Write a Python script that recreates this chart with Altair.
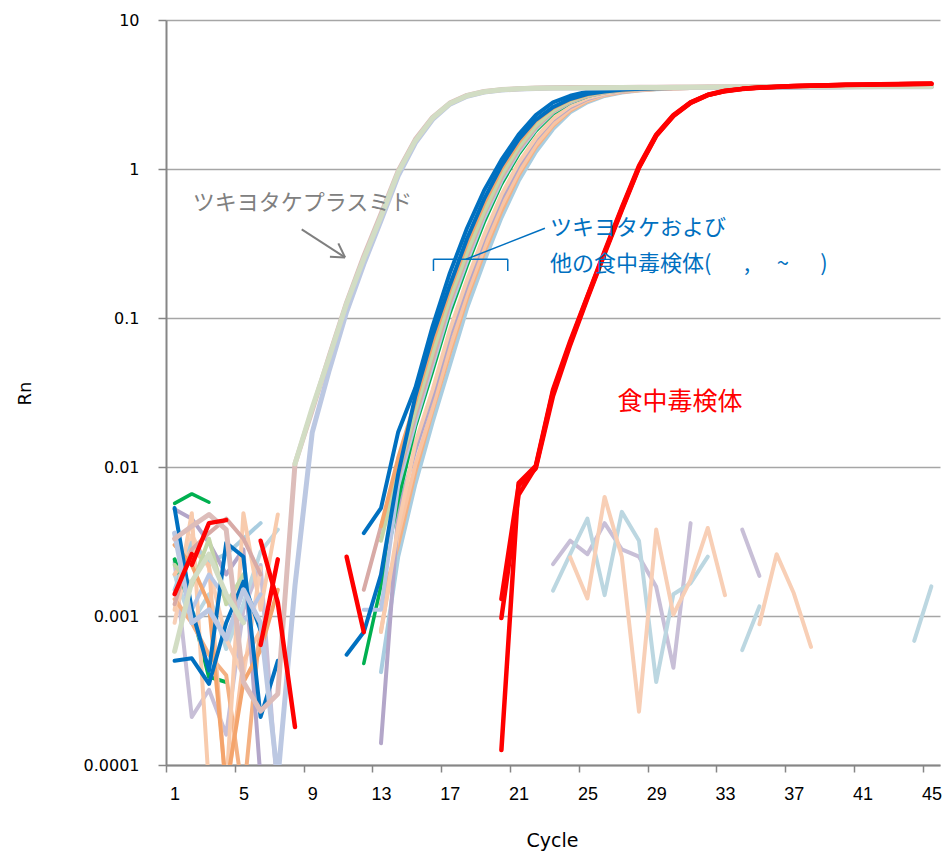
import altair as alt
import pandas as pd

# ---------------- data (Rn per cycle, None = no value / gap) ----------------
cycles = list(range(1, 46))
x_tick_values = [0.5, 4.5, 8.5, 12.5, 16.5, 20.5, 24.5, 28.5, 32.5, 36.5, 40.5, 44.5]
y_tick_values = [0.0001, 0.001, 0.01, 0.1, 1, 10]

# ツキヨタケプラスミド
plasmid_green = [
    0.00058, 0.0017, 0.0026, 0.0014, 0.0009,
    None, None, 0.0105, 0.025, 0.055,
    0.125, 0.25, 0.48, 0.95, 1.55,
    2.2, 2.75, 3.1, 3.3, 3.4,
    3.45, 3.48, 3.5, 3.5, 3.51,
    3.51, 3.52, 3.52, 3.53, 3.53,
    3.54, 3.54, 3.55, 3.55, 3.55,
    3.56, 3.56, 3.56, 3.57, 3.57,
    3.57, 3.58, 3.58, 3.58, 3.58]
plasmid_rose = [
    0.0033, 0.004, 0.0048, 0.0038, 0.00036,
    0.00023, 0.0003, 0.0105, 0.024, 0.056,
    0.127, 0.26, 0.5, 0.97, 1.58,
    2.22, 2.77, 3.12, 3.31, 3.41,
    3.46, 3.49, 3.51, 3.52, 3.52,
    3.53, 3.53, 3.54, 3.54, 3.55,
    3.55, 3.56, 3.56, 3.57, 3.57,
    3.58, 3.58, 3.59, 3.59, 3.6,
    3.6, 3.6, 3.61, 3.61, 3.61]
plasmid_steel = [
    0.0036, 0.0009, 0.0011, 0.0007, 0.0015,
    0.0009, 0.00008, 0.0016, 0.017, 0.045,
    0.11, 0.23, 0.45, 0.9, 1.5,
    2.15, 2.72, 3.08, 3.28, 3.39,
    3.44, 3.47, 3.49, 3.5, 3.5,
    3.51, 3.51, 3.52, 3.52, 3.52,
    3.53, 3.53, 3.53, 3.54, 3.54,
    3.54, 3.55, 3.55, 3.55, 3.55,
    3.56, 3.56, 3.56, 3.56, 3.57]

# ツキヨタケおよび他の食中毒検体
sample_blue_a = [
    0.0053, 0.0011, 0.00043, 0.0031, 0.0025,
    0.00021, 0.0005, None, None, None,
    None, 0.0036, 0.0053, 0.0172, 0.034,
    0.088, 0.2, 0.4, 0.72, 1.15,
    1.7, 2.3, 2.8, 3.1, 3.3,
    3.4, 3.45, 3.48, 3.5, 3.51,
    3.52, 3.52, 3.53, 3.53, 3.54,
    3.54, 3.55, 3.55, 3.55, 3.56,
    3.56, 3.56, 3.57, 3.57, 3.57]
sample_blue_b = [
    0.0005, 0.00052, 0.00035, 0.0009, 0.0017,
    0.0008, None, None, None, None,
    0.00055, 0.00078, 0.0019, 0.009, 0.03,
    0.076, 0.166, 0.34, 0.63, 1.05,
    1.58, 2.14, 2.6, 2.95, 3.18,
    3.31, 3.4, 3.45, 3.48, 3.5,
    3.51, 3.52, 3.52, 3.53, 3.53,
    3.54, 3.54, 3.55, 3.55, 3.55,
    3.56, 3.56, 3.56, 3.57, 3.57]
sample_orange = [
    0.003, 0.0022, 0.0012, 0.00007, 0.00036,
    0.00059, 0.0015, None, None, None,
    None, None, 0.004, 0.0115, 0.0275,
    0.069, 0.155, 0.316, 0.59, 1.0,
    1.51, 2.1, 2.57, 2.92, 3.16,
    3.31, 3.39, 3.45, 3.48, 3.5,
    3.52, 3.53, 3.54, 3.55, 3.56,
    3.57, 3.58, 3.59, 3.6, 3.6,
    3.61, 3.61, 3.62, 3.62, 3.62]
sample_palegreen = [
    0.0022, 0.0016, 0.0033, 0.0012, 0.0019,
    None, None, None, None, None,
    None, None, 0.0032, 0.0093, 0.024,
    0.058, 0.135, 0.275, 0.52, 0.91,
    1.4, 1.95, 2.47, 2.86, 3.13,
    3.29, 3.38, 3.44, 3.48, 3.5,
    3.51, 3.52, 3.53, 3.53, 3.54,
    3.54, 3.55, 3.55, 3.56, 3.56,
    3.56, 3.57, 3.57, 3.57, 3.58]
sample_rose = [
    0.0012, 0.0028, 0.0036, 0.0045, 0.0033,
    0.0019, None, None, None, None,
    None, 0.0015, 0.004, 0.0085, 0.022,
    0.052, 0.126, 0.257, 0.5, 0.87,
    1.35, 1.9, 2.43, 2.83, 3.1,
    3.27, 3.37, 3.43, 3.47, 3.5,
    3.52, 3.53, 3.54, 3.55, 3.56,
    3.57, 3.57, 3.58, 3.58, 3.59,
    3.59, 3.6, 3.6, 3.6, 3.61]
sample_green = [
    0.0057, 0.0066, 0.0058, None, None,
    None, None, None, None, None,
    None, 0.00048, 0.0016, 0.006, 0.0186,
    0.044, 0.107, 0.224, 0.44, 0.79,
    1.25, 1.8, 2.35, 2.78, 3.07,
    3.26, 3.36, 3.43, 3.47, 3.5,
    3.51, 3.52, 3.53, 3.53, 3.54,
    3.54, 3.55, 3.55, 3.55, 3.56,
    3.56, 3.56, 3.57, 3.57, 3.57]
sample_green_noise = [0.0024, 0.0011, 0.00039, 0.00036]
sample_steel = [
    0.0036, 0.0011, 0.0019, 0.0013, 0.0009,
    0.0014, None, None, None, None,
    None, 0.0011, 0.0011, 0.0075, 0.02,
    0.048, 0.116, 0.24, 0.47, 0.83,
    1.3, 1.85, 2.4, 2.8, 3.09,
    3.26, 3.36, 3.43, 3.47, 3.5,
    3.51, 3.52, 3.52, 3.53, 3.53,
    3.54, 3.54, 3.54, 3.55, 3.55,
    3.55, 3.56, 3.56, 3.56, 3.56]
sample_peach = [
    0.0011, 0.0049, 0.00007, 0.00007, 0.0049,
    0.0011, 0.0048, None, None, None,
    None, None, 0.00078, 0.004, 0.0145,
    0.033, 0.083, 0.18, 0.36, 0.67,
    1.1, 1.62, 2.18, 2.65, 2.99,
    3.2, 3.32, 3.4, 3.45, 3.48,
    3.5, 3.52, 3.53, 3.54, 3.55,
    3.56, 3.57, 3.58, 3.58, 3.59,
    3.6, 3.6, 3.61, 3.61, 3.62]
sample_lavender = [
    0.0052, 0.0045, 0.0031, 0.0019, 0.0028,
    0.00008, None, None, None, None,
    None, None, 0.00014, 0.005, 0.013,
    0.03, 0.076, 0.166, 0.34, 0.63,
    1.05, 1.58, 2.14, 2.6, 2.95,
    3.18, 3.31, 3.4, 3.45, 3.48,
    3.5, 3.51, 3.52, 3.52, 3.53,
    3.53, 3.54, 3.54, 3.54, 3.55,
    3.55, 3.55, 3.55, 3.56, 3.56]
sample_peach2 = [
    0.0019, 0.0028, 0.0022, 0.00006, 0.0005,
    0.0008, None, None, None, None,
    None, None, 0.0008, 0.0035, 0.0104,
    0.025, 0.063, 0.145, 0.295, 0.56,
    0.95, 1.45, 2.0, 2.52, 2.89,
    3.15, 3.3, 3.39, 3.44, 3.47,
    3.49, 3.5, 3.51, 3.52, 3.53,
    3.53, 3.54, 3.55, 3.55, 3.56,
    3.56, 3.57, 3.57, 3.58, 3.58]
sample_lightblue = [
    0.0015, 0.0031, 0.0023, 0.0026, 0.0033,
    0.0042, None, None, None, None,
    None, None, 0.00042, 0.0025, 0.0077,
    0.02, 0.048, 0.116, 0.24, 0.47,
    0.83, 1.3, 1.85, 2.4, 2.8,
    3.09, 3.26, 3.36, 3.43, 3.47,
    3.5, 3.51, 3.52, 3.52, 3.53,
    3.53, 3.54, 3.54, 3.54, 3.55,
    3.55, 3.55, 3.56, 3.56, 3.56]
sample_orange2 = [
    0.0013, 0.0009, 0.00055, 0.0004, 0.00006,
    0.0009, None, None, None, None,
    None, None, 0.0012, 0.003, 0.0093,
    0.024, 0.058, 0.135, 0.275, 0.52,
    0.91, 1.4, 1.95, 2.47, 2.86,
    3.13, 3.29, 3.38, 3.44, 3.48,
    3.5, 3.52, 3.53, 3.54, 3.55,
    3.56, 3.57, 3.57, 3.58, 3.58,
    3.59, 3.59, 3.6, 3.6, 3.6]

# non-amplifying samples
neg_lavender = [
    0.0023, 0.00021, 0.00032, 0.00016, 0.0011,
    0.0022, 0.00006, None, None, None,
    None, None, None, None, None,
    None, None, None, None, None,
    None, None, 0.00223, 0.0032, 0.0026,
    0.0042, 0.0028, 0.0025, 0.00157, 0.00045,
    0.0042, None, None, 0.0038, 0.00186]
neg_lightblue = [
    0.0019, 0.0009, 0.0014, 0.0006, 0.0012,
    0.0027, 0.0038, None, None, None,
    None, None, None, None, None,
    None, None, None, None, None,
    None, None, 0.00148, 0.0026, 0.0045,
    0.00138, 0.005, 0.0032, 0.00036, 0.0014,
    0.00166, 0.0025, None, 0.00059, 0.00116,
    None, None, None, None, None,
    None, None, None, 0.00068, 0.00158]
neg_peach = [
    0.0009, 0.0035, 0.0021, 0.0007, 0.0004,
    0.0021, None, None, None, None,
    None, None, None, None, None,
    None, None, None, None, None,
    None, None, None, 0.00248, 0.00131,
    0.0063, 0.0025, 0.000228, 0.0038, 0.00102,
    0.00175, 0.0039, 0.00138, None, 0.00088,
    0.0026, 0.00142, 0.00062]

# 食中毒検体
poison_a = [
    None, 0.0022, 0.0042, 0.0044, None,
    0.0032, 0.00123, 0.00018, None, None,
    0.0025, 0.00078, None, None, None,
    None, None, None, None, 0.000126,
    0.0078, 0.0102, 0.033, 0.07, 0.14,
    0.28, 0.55, 1.05, 1.7, 2.3,
    2.8, 3.15, 3.35, 3.45, 3.52,
    3.56, 3.6, 3.63, 3.65, 3.67,
    3.69, 3.7, 3.72, 3.73, 3.74]
poison_b = [
    0.0014, 0.0026, None, None, None,
    0.00064, 0.0024, None, None, None,
    None, None, None, None, None,
    None, None, None, None, 0.0013,
    0.0075, 0.0098, 0.03, 0.066, 0.135,
    0.27, 0.53, 1.02, 1.67, 2.27,
    2.78, 3.13, 3.33, 3.44, 3.51,
    3.55, 3.59, 3.62, 3.64, 3.66,
    3.68, 3.69, 3.71, 3.72, 3.73]
poison_c = [
    None, None, None, None, None,
    None, None, None, None, None,
    None, None, None, None, None,
    None, None, None, None, 0.00097,
    0.0065, 0.01, 0.032, 0.068, 0.138,
    0.275, 0.54, 1.03, 1.68, 2.28,
    2.79, 3.14, 3.34, 3.45, 3.52,
    3.56, 3.6, 3.62, 3.65, 3.67,
    3.68, 3.7, 3.71, 3.72, 3.74]

# (name, values, colour, line width) in drawing order
series = [
    ("neg_lavender", neg_lavender, "#c8bfd7", 4.0),
    ("neg_lightblue", neg_lightblue, "#bcd7e1", 4.0),
    ("neg_peach", neg_peach, "#f8cfb6", 4.0),
    ("sample_green_noise", sample_green_noise, "#00b050", 4.0),
    ("sample_lightblue", sample_lightblue, "#a9cde0", 4.0),
    ("sample_orange2", sample_orange2, "#f4b183", 4.0),
    ("sample_peach2", sample_peach2, "#f9c4a3", 4.0),
    ("sample_lavender", sample_lavender, "#b3a6c9", 4.0),
    ("sample_peach", sample_peach, "#f8cbad", 4.0),
    ("sample_green", sample_green, "#00b050", 3.5),
    ("sample_steel", sample_steel, "#b8c7e5", 4.0),
    ("sample_rose", sample_rose, "#d8aaa6", 4.0),
    ("sample_palegreen", sample_palegreen, "#c4d6a8", 4.0),
    ("sample_orange", sample_orange, "#f4a46c", 4.0),
    ("sample_blue_b", sample_blue_b, "#0070c0", 4.0),
    ("sample_blue_a", sample_blue_a, "#0070c0", 4.0),
    ("plasmid_steel", plasmid_steel, "#bcc8e2", 5.0),
    ("plasmid_rose", plasmid_rose, "#ddbdba", 5.0),
    ("plasmid_green", plasmid_green, "#d2ddc4", 5.0),
    ("poison_c", poison_c, "#ff0000", 4.5),
    ("poison_b", poison_b, "#ff0000", 4.5),
    ("poison_a", poison_a, "#ff0000", 4.5),
]

rows = []
for name, vals, color, width in series:
    seg = 0
    for c, v in zip(cycles, vals):
        if v is None:
            seg += 1
            continue
        rows.append({"series": name, "seg": seg, "cycle": c, "rn": v})
df = pd.DataFrame(rows)

# annotation anchor points (in data coordinates)
plasmid_label = pd.DataFrame({"cycle": [8.44], "rn": [0.591], "t": ["ツキヨタケプラスミド"]})
arrow_segments = pd.DataFrame({
    "cycle": [8.39, 10.52, 10.03], "rn": [0.393, 0.317, 0.258],
    "cycle2": [10.91, 10.91, 10.91], "rn2": [0.255, 0.255, 0.255]})
bracket_segments = pd.DataFrame({
    "cycle": [16.05, 16.05, 20.37, 17.94], "rn": [0.2477, 0.2477, 0.2477, 0.2477],
    "cycle2": [20.37, 16.05, 20.37, 22.53], "rn2": [0.2477, 0.2067, 0.2067, 0.40]})
blue_line1 = pd.DataFrame({"cycle": [22.83], "rn": [0.402], "t": ["ツキヨタケおよび"]})
blue_line2 = pd.DataFrame({"cycle": [22.83], "rn": [0.232], "t": ["他の食中毒検体("]})
blue_marks = pd.DataFrame({"cycle": [34.28, 36.37, 38.76], "rn": [0.232, 0.232, 0.232],
                           "t": [",", "~", ")"]})
red_label = pd.DataFrame({"cycle": [30.38], "rn": [0.0273], "t": ["食中毒検体"]})

# ---------------- chart ----------------
W, H = 774, 745
AX = "#868686"

x_enc = alt.X(
    "cycle:Q",
    scale=alt.Scale(domain=[0.5, 45.5], nice=False, zero=False),
    axis=alt.Axis(
        values=x_tick_values,
        labelExpr="format(datum.value + 0.5, 'd')",
        labelOffset=8.6,
        labelFlush=False,
        labelOverlap=False,
        grid=False,
        tickSize=7,
        labelPadding=13,
        labelFont="Liberation Sans Narrow, Liberation Sans",
        labelFontSize=18,
        labelColor="#000000",
        title="Cycle",
        titleFont="DejaVu Sans",
        titleFontSize=19,
        titleFontWeight="normal",
        titleColor="#000000",
        titleX=386,
        titleY=75,
        titleAlign="center",
        titleBaseline="middle",
    ),
)
y_enc = alt.Y(
    "rn:Q",
    scale=alt.Scale(type="log", domain=[0.0001, 10], nice=False),
    axis=alt.Axis(
        values=y_tick_values,
        labelExpr="datum.value >= 1 ? format(datum.value, 'd') : format(datum.value, '.4~f')",
        labelFlush=False,
        labelOverlap=False,
        grid=True,
        tickSize=8,
        labelPadding=19,
        labelFont="DejaVu Sans",
        labelFontSize=16,
        labelColor="#000000",
        title="Rn",
        titleFont="DejaVu Sans",
        titleFontSize=18,
        titleFontWeight="normal",
        titleColor="#000000",
        titleX=-141,
        titleY=373,
        titleAngle=270,
        titleAlign="center",
        titleBaseline="middle",
    ),
)

layers = []
for name, vals, color, width in series:
    layers.append(
        alt.Chart(df[df["series"] == name])
        .mark_line(color=color, strokeWidth=width, clip=True,
                   strokeCap="round", strokeJoin="round")
        .encode(x=x_enc, y=y_enc, detail="seg:N")
    )

jp_font = "Noto Sans CJK JP"
layers.append(
    alt.Chart(plasmid_label).mark_text(font=jp_font, fontSize=22, color="#808080",
                                       align="center", baseline="middle")
    .encode(x=x_enc, y=y_enc, text="t:N"))
layers.append(
    alt.Chart(arrow_segments).mark_rule(color="#7f7f7f", strokeWidth=2)
    .encode(x=x_enc, y=y_enc, x2="cycle2:Q", y2="rn2:Q"))
layers.append(
    alt.Chart(bracket_segments).mark_rule(color="#0070c0", strokeWidth=1.5)
    .encode(x=x_enc, y=y_enc, x2="cycle2:Q", y2="rn2:Q"))
layers.append(
    alt.Chart(blue_line1).mark_text(font=jp_font, fontSize=22, color="#0070c0",
                                    align="left", baseline="middle")
    .encode(x=x_enc, y=y_enc, text="t:N"))
layers.append(
    alt.Chart(blue_line2).mark_text(font=jp_font, fontSize=22, color="#0070c0",
                                    align="left", baseline="middle")
    .encode(x=x_enc, y=y_enc, text="t:N"))
layers.append(
    alt.Chart(blue_marks).mark_text(font=jp_font, fontSize=22, color="#0070c0",
                                    align="center", baseline="middle")
    .encode(x=x_enc, y=y_enc, text="t:N"))
layers.append(
    alt.Chart(red_label).mark_text(font=jp_font, fontSize=25, color="#ff0000",
                                   align="center", baseline="middle")
    .encode(x=x_enc, y=y_enc, text="t:N"))

chart = (
    alt.layer(*layers)
    .properties(
        width=W,
        height=H,
        padding={"left": 166, "top": 20, "right": 8, "bottom": 90},
        autosize=alt.AutoSizeParams(type="none"),
        background="#ffffff",
    )
    .configure_view(stroke=None)
    .configure_axis(
        domainColor=AX,
        domainWidth=2,
        tickColor=AX,
        tickWidth=1.5,
        gridColor="#a6a6a6",
        gridWidth=1.5,
    )
)

chart.save("out.html", embed_options={"renderer": "svg", "actions": False})
